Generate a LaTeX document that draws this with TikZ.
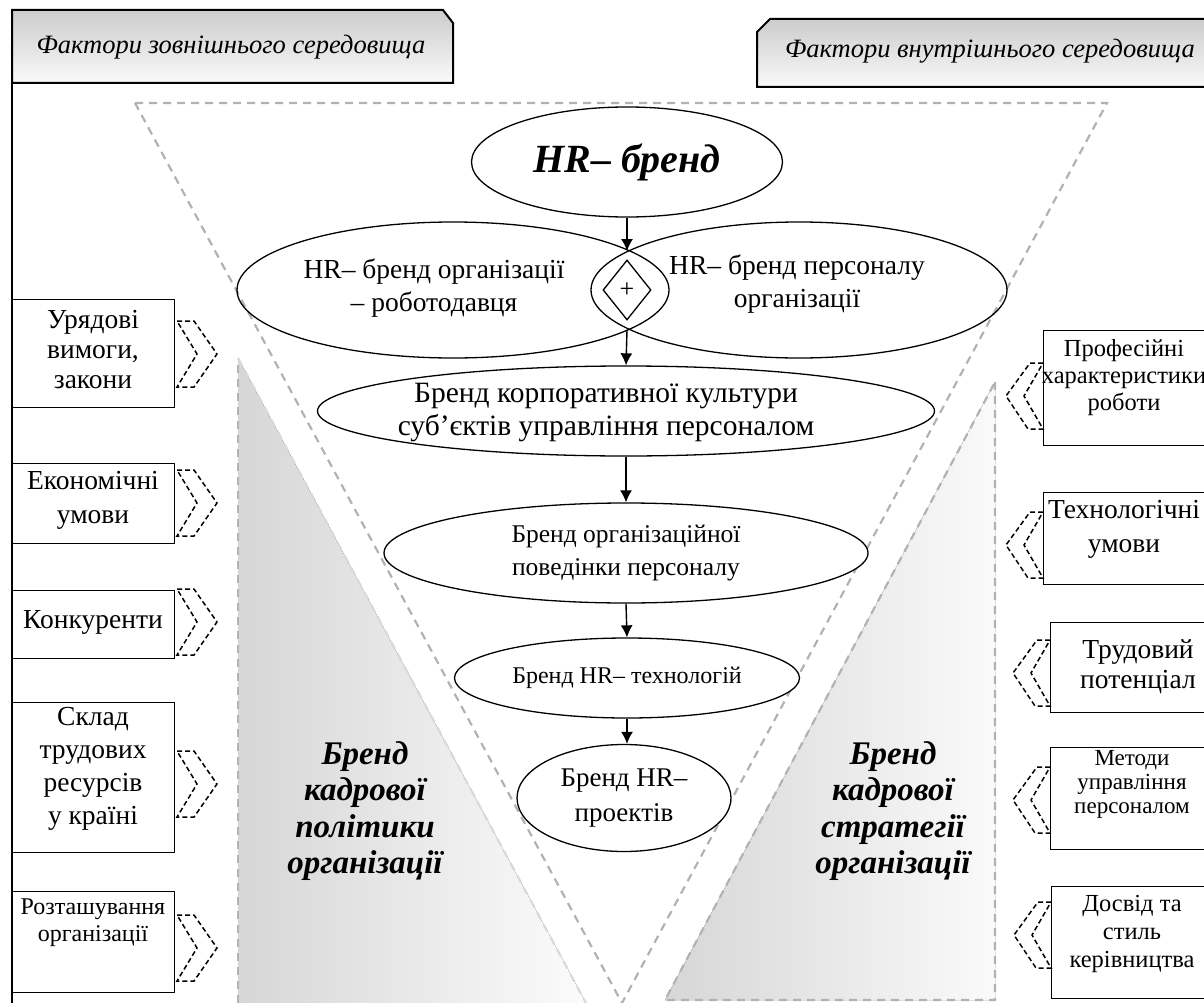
\documentclass[tikz,border=0pt]{standalone}
\usepackage{fontspec}
\setmainfont{Liberation Serif}
\usetikzlibrary{shapes.geometric,arrows.meta}
\newcommand\fz[2]{\fontsize{#1}{#2}\selectfont}
\tikzset{
  hdr/.style={draw, line width=2pt, top color=gray!40, bottom color=gray!4},
  gline/.style={draw=gray!60, dash pattern=on 8pt off 6pt, line width=2.2pt},
  ell/.style={ellipse, draw, line width=1.3pt, inner sep=0pt, align=center},
  box/.style={draw, line width=1.3pt, rectangle, inner sep=0pt, anchor=north west},
  chev/.style={draw, dash pattern=on 5pt off 3pt, line width=1.5pt},
  arr/.style={-{Latex[length=12pt,width=12pt]}, line width=1.4pt},
  txt/.style={align=center, inner sep=0pt},
  pics/rchev/.style={code={\draw[chev] (0,-33) -- (17,-33) -- (40,0) -- (17,33) -- (0,33) -- (20,0) -- cycle;}},
  pics/lchev/.style={code={\draw[chev] (0,-33) -- (-13,-33) -- (-37,0) -- (-15,33) -- (0,33) -- (-19,0) -- cycle;}}
}
\begin{document}
\begin{tikzpicture}[x=1pt,y=-1pt]
\useasboundingbox (0,0) rectangle (1204,1003);
% shaded triangles
\fill[left color=gray!32, right color=gray!3] (238,358) -- (586,1003) -- (238,1003) -- cycle;
\draw[gline] (238,1003) -- (238,358);
\draw[gline, draw=gray!30] (238,358) -- (586,1003);
\fill[left color=gray!32, right color=gray!4] (995,382) -- (995,1000) -- (665,1000) -- cycle;
\draw[gline] (995,382) -- (995,1000) -- (665,1000) -- cycle;
% big triangle
\draw[gline] (135,103) -- (1107,103) -- (622,1003) -- cycle;
% headers
\path[hdr] (12,10) -- (443,10) -- (453,23) -- (453,83) -- (12,83) -- cycle;
\node[txt, font=\itshape\fz{26.5}{30}] (h1) at (231,47) {Фактори зовнішнього середовища};
\path[hdr] (757,32) -- (770,19) -- (1215,19) -- (1215,87) -- (757,87) -- cycle;
\node[txt, font=\itshape\fz{26.5}{30}] (h2) at (990,51) {Фактори внутрішнього середовища};
\draw[line width=1.3pt] (12,83) -- (12,1010);
% ellipses
\node[ell, minimum width=311pt, minimum height=110pt, font=\bfseries\itshape\fz{40}{46}] (top) at (627,162) {HR– бренд};
\node[ell, minimum width=432pt, minimum height=136pt] (L) at (453,290) {};
\node[ell, minimum width=416pt, minimum height=136pt] (R) at (799,290) {};
\node[txt, font=\fz{27.5}{33}] (Lt) at (434,288) {HR– бренд організації\\– роботодавця};
\node[txt, font=\fz{27.5}{33}] (Rt) at (797,284) {HR– бренд персоналу\\організації};
\node[diamond, draw, line width=1.3pt, minimum width=48pt, minimum height=60pt, inner sep=0pt, font=\fz{26}{30}] (dm) at (627,290) {+};
\coordinate (lensT) at (627,251);
\coordinate (lensB) at (627,330);
\node[ell, fill=white, minimum width=617pt, minimum height=90pt] (e3) at (626,411) {};
\node[txt, font=\fz{29.5}{33}] (e3t) at (606,413) {Бренд корпоративної культури\\суб’єктів управління персоналом};
\node[ell, fill=white, minimum width=484pt, minimum height=100pt, font=\fz{25.5}{33}] (e4) at (626,553) {Бренд організаційної\\поведінки персоналу};
\node[ell, fill=white, minimum width=345pt, minimum height=80pt, font=\fz{24}{28}] (e5) at (627,678) {Бренд HR– технологій};
\node[ell, fill=white, minimum width=214pt, minimum height=107pt, font=\fz{27}{35}] (e6) at (624,798) {Бренд HR–\\проектів};
% arrows
\draw[arr] (top.south) -- (lensT);
\draw[arr] (lensB) -- (e3.north);
\draw[arr] (e3.south) -- (e4.north);
\draw[arr] (e4.south) -- (e5.north);
\draw[arr] (e5.south) -- (e5.south |- e6.north);
% triangle texts
\node[txt, font=\bfseries\itshape\fz{33}{36.5}] (pol) at (365,811) {Бренд\\кадрової\\політики\\організації};
\node[txt, font=\bfseries\itshape\fz{33}{36.5}] (str) at (893,811) {Бренд\\кадрової\\стратегії\\організації};
% left boxes
\node[box, minimum width=162pt, minimum height=108pt] (b1) at (12,299) {};
\node[txt, font=\fz{27.5}{30}] (b1t) at (93,350) {Урядові\\вимоги,\\закони};
\node[box, minimum width=162pt, minimum height=80pt] (b2) at (12,463) {};
\node[txt, font=\fz{27.5}{34}] (b2t) at (93,500) {Економічні\\умови};
\node[box, minimum width=162pt, minimum height=68pt] (b3) at (12,590) {};
\node[txt, font=\fz{27.5}{30}] (b3t) at (93,622) {Конкуренти};
\node[box, minimum width=162pt, minimum height=150pt] (b4) at (12,702) {};
\node[txt, font=\fz{27.5}{33}] (b4t) at (93,769) {Склад\\трудових\\ресурсів\\у країні};
\node[box, minimum width=162pt, minimum height=101pt] (b5) at (12,891) {};
\node[txt, font=\fz{24}{27}] (b5t) at (93,923) {Розташування\\організації};
\pic at (177,354) {rchev};
\pic at (177,503) {rchev};
\pic at (177,622) {rchev};
\pic at (177,784) {rchev};
\pic at (177,948) {rchev};
% right boxes
\node[box, minimum width=172pt, minimum height=115pt] (r1) at (1043,330) {};
\node[txt, font=\fz{24.5}{27}] (r1t) at (1124,378) {Професійні\\характеристики\\роботи};
\node[box, minimum width=172pt, minimum height=92pt] (r2) at (1043,492) {};
\node[txt, font=\fz{27.5}{34}] (r2t) at (1124,529) {Технологічні\\умови};
\node[box, minimum width=165pt, minimum height=90pt] (r3) at (1050,622) {};
\node[txt, font=\fz{27.5}{30}] (r3t) at (1138,667) {Трудовий\\потенціал};
\node[box, minimum width=165pt, minimum height=102pt] (r4) at (1050,747) {};
\node[txt, font=\fz{23}{24}] (r4t) at (1132,784) {Методи\\управління\\персоналом};
\node[box, minimum width=164pt, minimum height=112pt] (r5) at (1051,886) {};
\node[txt, font=\fz{24.5}{28}] (r5t) at (1132,934) {Досвід та\\стиль\\керівництва};
\pic at (1043,396) {lchev};
\pic at (1043,545) {lchev};
\pic at (1050,673) {lchev};
\pic at (1050,800) {lchev};
\pic at (1051,935) {lchev};
\end{tikzpicture}
\end{document}
